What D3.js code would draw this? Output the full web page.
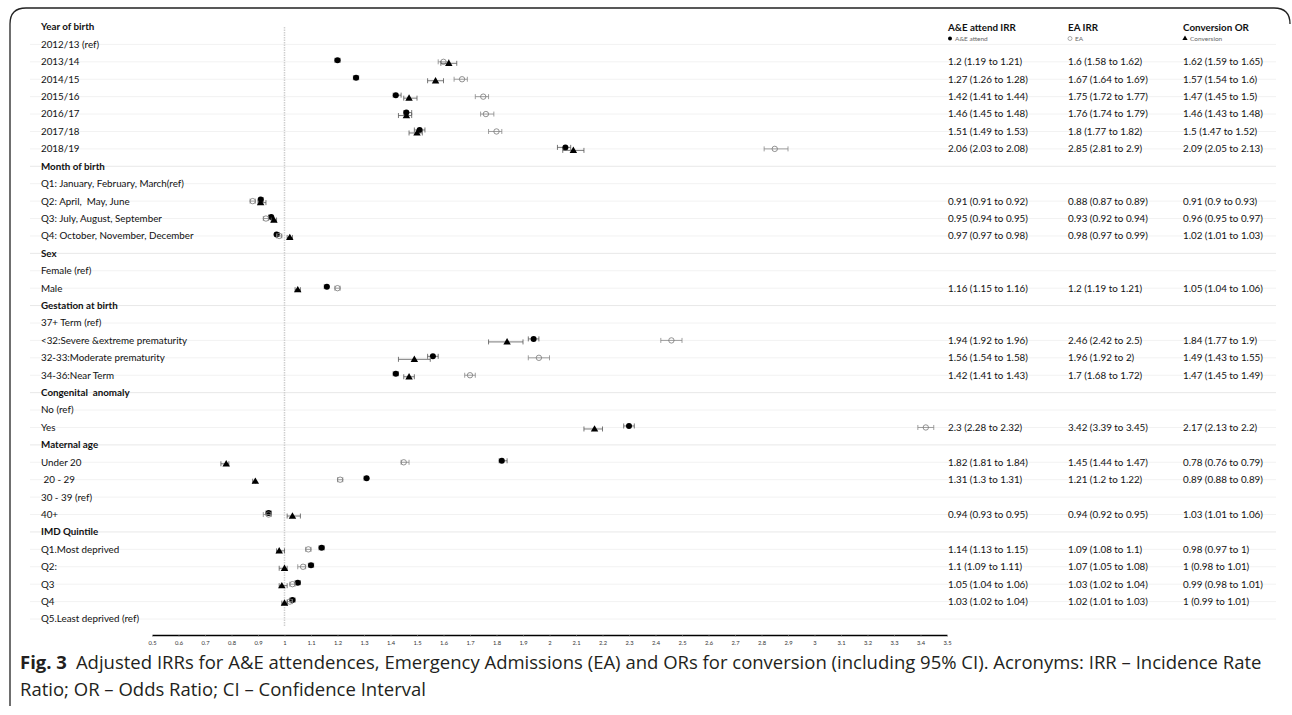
<!DOCTYPE html>
<html>
<head>
<meta charset="utf-8">
<script src="https://cdn.jsdelivr.net/npm/d3@7"></script>
<style>
  body { margin: 0; background: #fff; }
  svg { display: block; }
</style>
</head>
<body>
<script>
// row labels, top to bottom; "group" rows are bold headings
const rows = [
  "Year of birth", "2012/13 (ref)", "2013/14", "2014/15", "2015/16", "2016/17", "2017/18", "2018/19",
  "Month of birth", "Q1: January, February, March(ref)", "Q2: April,  May, June", "Q3: July, August, September", "Q4: October, November, December",
  "Sex", "Female (ref)", "Male",
  "Gestation at birth", "37+ Term (ref)", "<32:Severe &extreme prematurity", "32-33:Moderate prematurity", "34-36:Near Term",
  "Congenital  anomaly", "No (ref)", "Yes",
  "Maternal age", "Under 20", " 20 - 29", "30 - 39 (ref)", "40+",
  "IMD Quintile", "Q1.Most deprived", "Q2:", "Q3", "Q4", "Q5.Least deprived (ref)"
];
const groups = ["Year of birth", "Month of birth", "Sex", "Gestation at birth", "Congenital  anomaly", "Maternal age", "IMD Quintile"];

// [row, estimate, lower, upper]
const aeAttend = [
  ["2013/14", 1.2, 1.19, 1.21], ["2014/15", 1.27, 1.26, 1.28], ["2015/16", 1.42, 1.41, 1.44],
  ["2016/17", 1.46, 1.45, 1.48], ["2017/18", 1.51, 1.49, 1.53], ["2018/19", 2.06, 2.03, 2.08],
  ["Q2: April,  May, June", 0.91, 0.91, 0.92], ["Q3: July, August, September", 0.95, 0.94, 0.95], ["Q4: October, November, December", 0.97, 0.97, 0.98],
  ["Male", 1.16, 1.15, 1.16],
  ["<32:Severe &extreme prematurity", 1.94, 1.92, 1.96], ["32-33:Moderate prematurity", 1.56, 1.54, 1.58], ["34-36:Near Term", 1.42, 1.41, 1.43],
  ["Yes", 2.3, 2.28, 2.32],
  ["Under 20", 1.82, 1.81, 1.84], [" 20 - 29", 1.31, 1.3, 1.31], ["40+", 0.94, 0.93, 0.95],
  ["Q1.Most deprived", 1.14, 1.13, 1.15], ["Q2:", 1.1, 1.09, 1.11], ["Q3", 1.05, 1.04, 1.06], ["Q4", 1.03, 1.02, 1.04]
];
const eaIrr = [
  ["2013/14", 1.6, 1.58, 1.62], ["2014/15", 1.67, 1.64, 1.69], ["2015/16", 1.75, 1.72, 1.77],
  ["2016/17", 1.76, 1.74, 1.79], ["2017/18", 1.8, 1.77, 1.82], ["2018/19", 2.85, 2.81, 2.9],
  ["Q2: April,  May, June", 0.88, 0.87, 0.89], ["Q3: July, August, September", 0.93, 0.92, 0.94], ["Q4: October, November, December", 0.98, 0.97, 0.99],
  ["Male", 1.2, 1.19, 1.21],
  ["<32:Severe &extreme prematurity", 2.46, 2.42, 2.5], ["32-33:Moderate prematurity", 1.96, 1.92, 2], ["34-36:Near Term", 1.7, 1.68, 1.72],
  ["Yes", 3.42, 3.39, 3.45],
  ["Under 20", 1.45, 1.44, 1.47], [" 20 - 29", 1.21, 1.2, 1.22], ["40+", 0.94, 0.92, 0.95],
  ["Q1.Most deprived", 1.09, 1.08, 1.1], ["Q2:", 1.07, 1.05, 1.08], ["Q3", 1.03, 1.02, 1.04], ["Q4", 1.02, 1.01, 1.03]
];
const conversionOr = [
  ["2013/14", 1.62, 1.59, 1.65], ["2014/15", 1.57, 1.54, 1.6], ["2015/16", 1.47, 1.45, 1.5],
  ["2016/17", 1.46, 1.43, 1.48], ["2017/18", 1.5, 1.47, 1.52], ["2018/19", 2.09, 2.05, 2.13],
  ["Q2: April,  May, June", 0.91, 0.9, 0.93], ["Q3: July, August, September", 0.96, 0.95, 0.97], ["Q4: October, November, December", 1.02, 1.01, 1.03],
  ["Male", 1.05, 1.04, 1.06],
  ["<32:Severe &extreme prematurity", 1.84, 1.77, 1.9], ["32-33:Moderate prematurity", 1.49, 1.43, 1.55], ["34-36:Near Term", 1.47, 1.45, 1.49],
  ["Yes", 2.17, 2.13, 2.2],
  ["Under 20", 0.78, 0.76, 0.79], [" 20 - 29", 0.89, 0.88, 0.89], ["40+", 1.03, 1.01, 1.06],
  ["Q1.Most deprived", 0.98, 0.97, 1], ["Q2:", 1, 0.98, 1.01], ["Q3", 0.99, 0.98, 1.01], ["Q4", 1, 0.99, 1.01]
];

const columnTitles = ["A&E attend IRR", "EA IRR", "Conversion OR"];
const legendNames = ["A&E attend", "EA", "Conversion"];

const W = 1292, H = 715;
const svg = d3.select("body").append("svg").attr("width", W).attr("height", H);
const font = "Lato, 'Open Sans', sans-serif";
const capFont = "'Open Sans', Lato, sans-serif";
const fs = 9.8;

// frame
svg.append("path")
  .attr("d", "M10,706 L10,24 Q10,8 26,8 L1274,8 Q1290,8 1290,24")
  .attr("fill", "none").attr("stroke", "#222").attr("stroke-width", 1.3);

const x = d3.scaleLinear().domain([0.5, 3.5]).range([152, 947]);
const y = d3.scalePoint().domain(rows).range([27, 619]);

// row gridlines
svg.append("g").selectAll("line")
  .data(rows.slice(1))
  .join("line")
  .attr("x1", 30).attr("x2", 1276)
  .attr("y1", d => y(d)).attr("y2", d => y(d))
  .attr("stroke", d => groups.includes(d) ? "#e8e8e8" : "#f2f2f2")
  .attr("stroke-width", 1);

// reference line at 1
svg.append("line")
  .attr("x1", x(1)).attr("x2", x(1)).attr("y1", 27).attr("y2", 626)
  .attr("stroke", "#cfcfcf").attr("stroke-width", 1.5).attr("stroke-dasharray", "1.5,1");

// row labels
svg.append("g").selectAll("text")
  .data(rows)
  .join("text")
  .attr("x", 41).attr("y", d => y(d))
  .attr("dy", "0.35em")
  .attr("font-family", font).attr("font-size", fs)
  .attr("font-weight", d => groups.includes(d) ? "bold" : "normal")
  .attr("fill", "#111")
  .style("white-space", "pre")
  .text(d => d);

// error bars and markers
const series = [
  { data: aeAttend, off: -1.5, col: "#555", kind: "dot" },
  { data: eaIrr, off: 0, col: "#888", kind: "ring" },
  { data: conversionOr, off: 1.5, col: "#555", kind: "tri" }
];
const tri = d3.symbol().type(d3.symbolTriangle).size(24);

series.forEach(s => {
  const g = svg.append("g");
  const bars = g.selectAll("g.bar").data(s.data).join("g").attr("class", "bar")
    .attr("transform", d => `translate(0,${y(d[0]) + s.off})`);
  bars.append("line").attr("x1", d => x(d[2])).attr("x2", d => x(d[3]))
    .attr("stroke", s.col).attr("stroke-width", 0.8);
  bars.append("line").attr("x1", d => x(d[2])).attr("x2", d => x(d[2])).attr("y1", -2.5).attr("y2", 2.5)
    .attr("stroke", s.col).attr("stroke-width", 0.8);
  bars.append("line").attr("x1", d => x(d[3])).attr("x2", d => x(d[3])).attr("y1", -2.5).attr("y2", 2.5)
    .attr("stroke", s.col).attr("stroke-width", 0.8);
  if (s.kind === "dot") {
    bars.append("circle").attr("cx", d => x(d[1])).attr("r", 3).attr("fill", "#000");
  } else if (s.kind === "ring") {
    bars.append("circle").attr("cx", d => x(d[1])).attr("r", 2.7)
      .attr("fill", "none").attr("stroke", "#777").attr("stroke-width", 0.8);
  } else {
    bars.append("path").attr("d", tri).attr("transform", d => `translate(${x(d[1])},0.5)`).attr("fill", "#000");
  }
});

// right-hand columns
const colX = [948, 1068, 1183];
const fmt = v => String(v);
[aeAttend, eaIrr, conversionOr].forEach((data, i) => {
  const g = svg.append("g").attr("font-family", font).attr("font-size", fs).attr("fill", "#111");
  g.append("text").attr("x", colX[i]).attr("y", 28).attr("dy", "0.35em")
    .attr("font-weight", "bold").text(columnTitles[i]);
  g.selectAll("text.v").data(data).join("text").attr("class", "v")
    .attr("x", colX[i]).attr("y", d => y(d[0])).attr("dy", "0.35em")
    .text(d => `${fmt(d[1])} (${fmt(d[2])} to ${fmt(d[3])})`);
  // legend under header
  const lg = svg.append("g").attr("transform", `translate(${colX[i] + 2},38.5)`);
  if (i === 0) lg.append("circle").attr("r", 2).attr("fill", "#000");
  if (i === 1) lg.append("circle").attr("r", 2).attr("fill", "none").attr("stroke", "#888").attr("stroke-width", 0.7);
  if (i === 2) lg.append("path").attr("d", d3.symbol().type(d3.symbolTriangle).size(12)).attr("fill", "#000");
  lg.append("text").attr("x", 5).attr("dy", "0.35em")
    .attr("font-family", font).attr("font-size", 6.5).attr("fill", "#666").text(legendNames[i]);
});

// x axis
const axis = svg.append("g").attr("transform", "translate(0,635)")
  .call(d3.axisBottom(x).ticks(30).tickSize(2).tickSizeOuter(0).tickFormat(d => +d.toFixed(1)));
axis.select(".domain").attr("stroke", "#000").attr("stroke-width", 1.5);
axis.selectAll(".tick line").attr("stroke", "#999").attr("stroke-width", 0.5);
axis.selectAll(".tick text").attr("font-family", font).attr("font-size", 5.8).attr("fill", "#333").attr("dy", "0.9em");

// caption
const capSize = 18.5;
const cap = svg.append("text").attr("font-family", capFont).attr("font-size", capSize).attr("fill", "#231f20");
cap.append("tspan").attr("x", 20).attr("y", 669).attr("font-weight", "bold").text("Fig. 3");
cap.append("tspan").attr("dx", 9).text("Adjusted IRRs for A&E attendences, Emergency Admissions (EA) and ORs for conversion (including 95% CI). Acronyms: IRR – Incidence Rate");
svg.append("text").attr("font-family", capFont).attr("font-size", capSize).attr("fill", "#231f20")
  .attr("x", 20).attr("y", 696).text("Ratio; OR – Odds Ratio; CI – Confidence Interval");
</script>
</body>
</html>
